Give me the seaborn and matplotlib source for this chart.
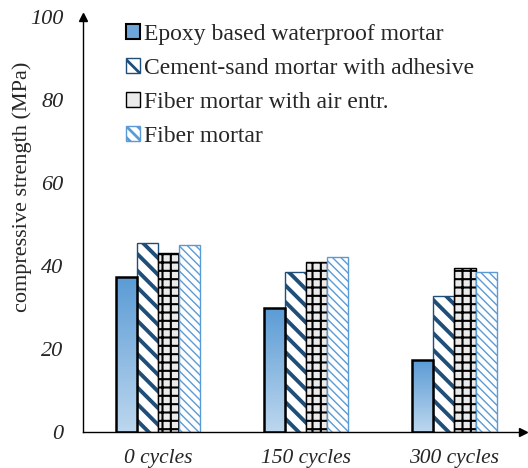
import numpy as np
import pandas as pd
import matplotlib
matplotlib.use('Agg')
import matplotlib.pyplot as plt
import seaborn as sns
from matplotlib.colors import LinearSegmentedColormap
from matplotlib.patches import Patch

cycles = ['0 cycles', '150 cycles', '300 cycles']
mortars = ['Epoxy based waterproof mortar', 'Cement-sand mortar with adhesive',
           'Fiber mortar with air entr.', 'Fiber mortar']
epoxy = [37.3, 29.9, 17.3]
cement_sand = [45.6, 38.5, 32.7]
fiber_air = [43.1, 41.0, 39.6]
fiber = [45.0, 42.1, 38.5]

df = pd.DataFrame({
    'cycles': cycles * 4,
    'mortar': np.repeat(mortars, 3),
    'strength': epoxy + cement_sand + fiber_air + fiber,
})

sns.set_style('white')
plt.rcParams['font.family'] = ['Liberation Serif', 'DejaVu Serif']
plt.rcParams['hatch.linewidth'] = 2.0

fig = plt.figure(figsize=(5.28, 4.68), dpi=100)
ax = fig.add_axes([0.157, 0.077, 0.833, 0.887])

sns.barplot(data=df, x='cycles', y='strength', hue='mortar', hue_order=mortars,
            order=cycles, width=0.57, ax=ax, legend=False, errorbar=None)

styles = [
    dict(facecolor='none', edgecolor='black', hatch=None, lw=1.8),
    dict(facecolor='white', edgecolor='#1f4e79', hatch='\\\\', lw=1.0),
    dict(facecolor='#ebebeb', edgecolor='black', hatch='++', lw=1.0),
    dict(facecolor='white', edgecolor='#5b9bd5', hatch='\\\\\\\\', lw=1.0),
]
hatch_lw = [1.0, 2.8, 1.5, 1.0]

cmap = LinearSegmentedColormap.from_list('blue_grad', ['#bdd7ee', '#5b9bd5'])
grad = np.linspace(0, 1, 256).reshape(-1, 1)

for i, cont in enumerate(ax.containers):
    st = styles[i]
    for rect in cont:
        rect.set_facecolor(st['facecolor'])
        rect.set_edgecolor(st['edgecolor'])
        rect.set_linewidth(st['lw'])
        if st['hatch']:
            rect.set_hatch(st['hatch'])
        if hasattr(rect, 'set_hatch_linewidth'):
            rect.set_hatch_linewidth(hatch_lw[i])
        if i == 0:
            x, w, h = rect.get_x(), rect.get_width(), rect.get_height()
            im = ax.imshow(grad, extent=[x, x + w, 0, h], origin='lower',
                           aspect='auto', cmap=cmap, zorder=1.5)
            im.set_clip_path(rect)
            rect.set_zorder(2.5)

ax.set_xlim(-0.505, 2.46)
ax.set_ylim(0, 100)
ax.set_yticks([0, 20, 40, 60, 80, 100])
ax.tick_params(axis='y', direction='out', length=5, width=1, labelsize=16, pad=9)
ax.tick_params(axis='x', length=0, labelsize=15.5, pad=12)
for lab in ax.get_xticklabels() + ax.get_yticklabels():
    lab.set_fontstyle('italic')
ax.set_xlabel('')
ax.set_ylabel('compressive strength (MPa)', fontsize=16)
ax.yaxis.set_label_coords(-0.116, 0.59)

for s in ['top', 'right']:
    ax.spines[s].set_visible(False)
for s in ['left', 'bottom']:
    ax.spines[s].set_color('black')
    ax.spines[s].set_linewidth(1.0)
ax.plot(0, 1, '^k', ms=6, transform=ax.transAxes, clip_on=False)
ax.plot(1, 0, '>k', ms=6, transform=ax.transAxes, clip_on=False)

handles = [
    Patch(facecolor='#6fa6d9', edgecolor='black', lw=1.5, label=mortars[0]),
    Patch(facecolor='white', edgecolor='#1f4e79', hatch='\\\\', label=mortars[1]),
    Patch(facecolor='#ebebeb', edgecolor='black', hatch='-', label=mortars[2]),
    Patch(facecolor='white', edgecolor='#5b9bd5', hatch='\\\\\\', label=mortars[3]),
]
ax.legend(handles=handles, loc='upper left', bbox_to_anchor=(0.05, 1.035),
          frameon=False, fontsize=17, handlelength=0.6, handleheight=0.6,
          handletextpad=0.15, labelspacing=0.55)

fig.savefig('out.png', dpi=100)
